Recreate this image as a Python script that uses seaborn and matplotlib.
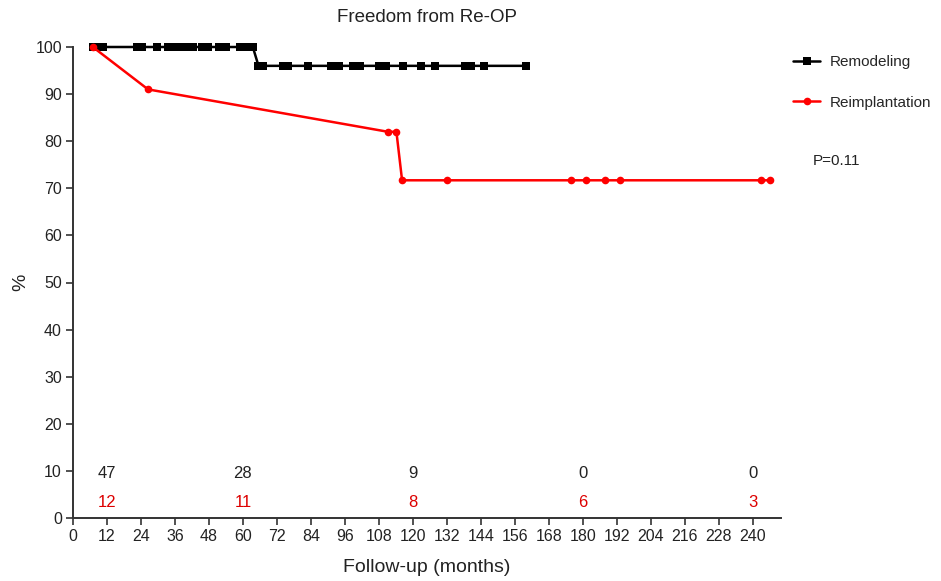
import matplotlib
matplotlib.use("Agg")
import matplotlib.pyplot as plt
import seaborn as sns
import pandas as pd
import numpy as np

# Data
remodel_months = [7, 8, 10.5, 22.5, 24.5, 29.5, 33.5, 35, 36.5, 38, 39.5, 41, 42.5,
                  45.5, 47.5, 51.5, 54, 59, 61, 62.5, 63.5,
                  65.5, 67, 74, 76, 83, 91, 94, 99, 101.5, 108, 110.5, 116.5, 123,
                  127.8, 138.5, 140.5, 145, 160]
remodel_pct = [100] * 21 + [96] * 18

reimpl_months = [7, 26.5, 111.2, 114.2, 116.2, 132, 176, 181, 188, 193, 243, 246]
reimpl_pct = [100, 91, 82, 82, 71.7, 71.7, 71.7, 71.7, 71.7, 71.7, 71.7, 71.7]

risk_times = [12, 60, 120, 180, 240]
risk_remodel = [47, 28, 9, 0, 0]
risk_reimpl = [12, 11, 8, 6, 3]

x_ticks = list(range(0, 241, 12))
y_ticks = list(range(0, 101, 10))
p_text = "P=0.11"

sns.set_theme(style="ticks")
plt.rcParams['font.family'] = ['Liberation Sans', 'DejaVu Sans']

df = pd.concat([
    pd.DataFrame({"month": remodel_months, "pct": remodel_pct, "group": "Remodeling"}),
    pd.DataFrame({"month": reimpl_months, "pct": reimpl_pct, "group": "Reimplantation"}),
], ignore_index=True)

fig = plt.figure(figsize=(9.41, 5.81), dpi=100)
ax = fig.add_axes([73/941, 1 - 518/581, (781 - 73)/941, (518 - 47)/581])

sub = df[df.group == "Remodeling"]
sns.lineplot(data=sub, x="month", y="pct", ax=ax, color="black", lw=1.8,
             marker="s", markersize=5.5, markeredgewidth=0, sort=False,
             estimator=None, label="Remodeling", clip_on=False, zorder=3)
sub = df[df.group == "Reimplantation"]
sns.lineplot(data=sub, x="month", y="pct", ax=ax, color="#ff0000", lw=1.8,
             marker="o", markersize=5.5, markeredgewidth=0, sort=False,
             estimator=None, label="Reimplantation", clip_on=False, zorder=4)

ax.set_xlim(0, 250)
ax.set_ylim(0, 100)
ax.set_xticks(x_ticks)
ax.set_xticklabels([str(t) for t in x_ticks], fontsize=11.5, color="#222222")
ax.set_yticks(y_ticks)
ax.set_yticklabels([str(t) for t in y_ticks], fontsize=11.5, color="#222222")
ax.tick_params(axis="both", direction="out", length=5, width=1.2, color="#333333", pad=3)
for s in ["top", "right"]:
    ax.spines[s].set_visible(False)
for s in ["left", "bottom"]:
    ax.spines[s].set_linewidth(1.4)
    ax.spines[s].set_color("#333333")

ax.set_xlabel("Follow-up (months)", fontsize=14, color="#222222", labelpad=11)
ax.set_ylabel("%", fontsize=14, color="#222222", labelpad=4)
ax.set_title("Freedom from Re-OP", fontsize=13.5, color="#222222", pad=18)

for t, a, b in zip(risk_times, risk_remodel, risk_reimpl):
    ax.text(t, 9.5, str(a), ha="center", va="center", fontsize=12, color="#222222")
    ax.text(t, 3.3, str(b), ha="center", va="center", fontsize=12, color="#dd0000")

leg = ax.legend(loc="upper left", bbox_to_anchor=(0.998, 1.012), frameon=False,
                fontsize=11, handlelength=1.75, labelspacing=1.75, handletextpad=0.65)
ax.text(1.045, 0.758, p_text, transform=ax.transAxes, fontsize=11, color="#222222",
        ha="left", va="center")

fig.savefig("out.png", dpi=100)
